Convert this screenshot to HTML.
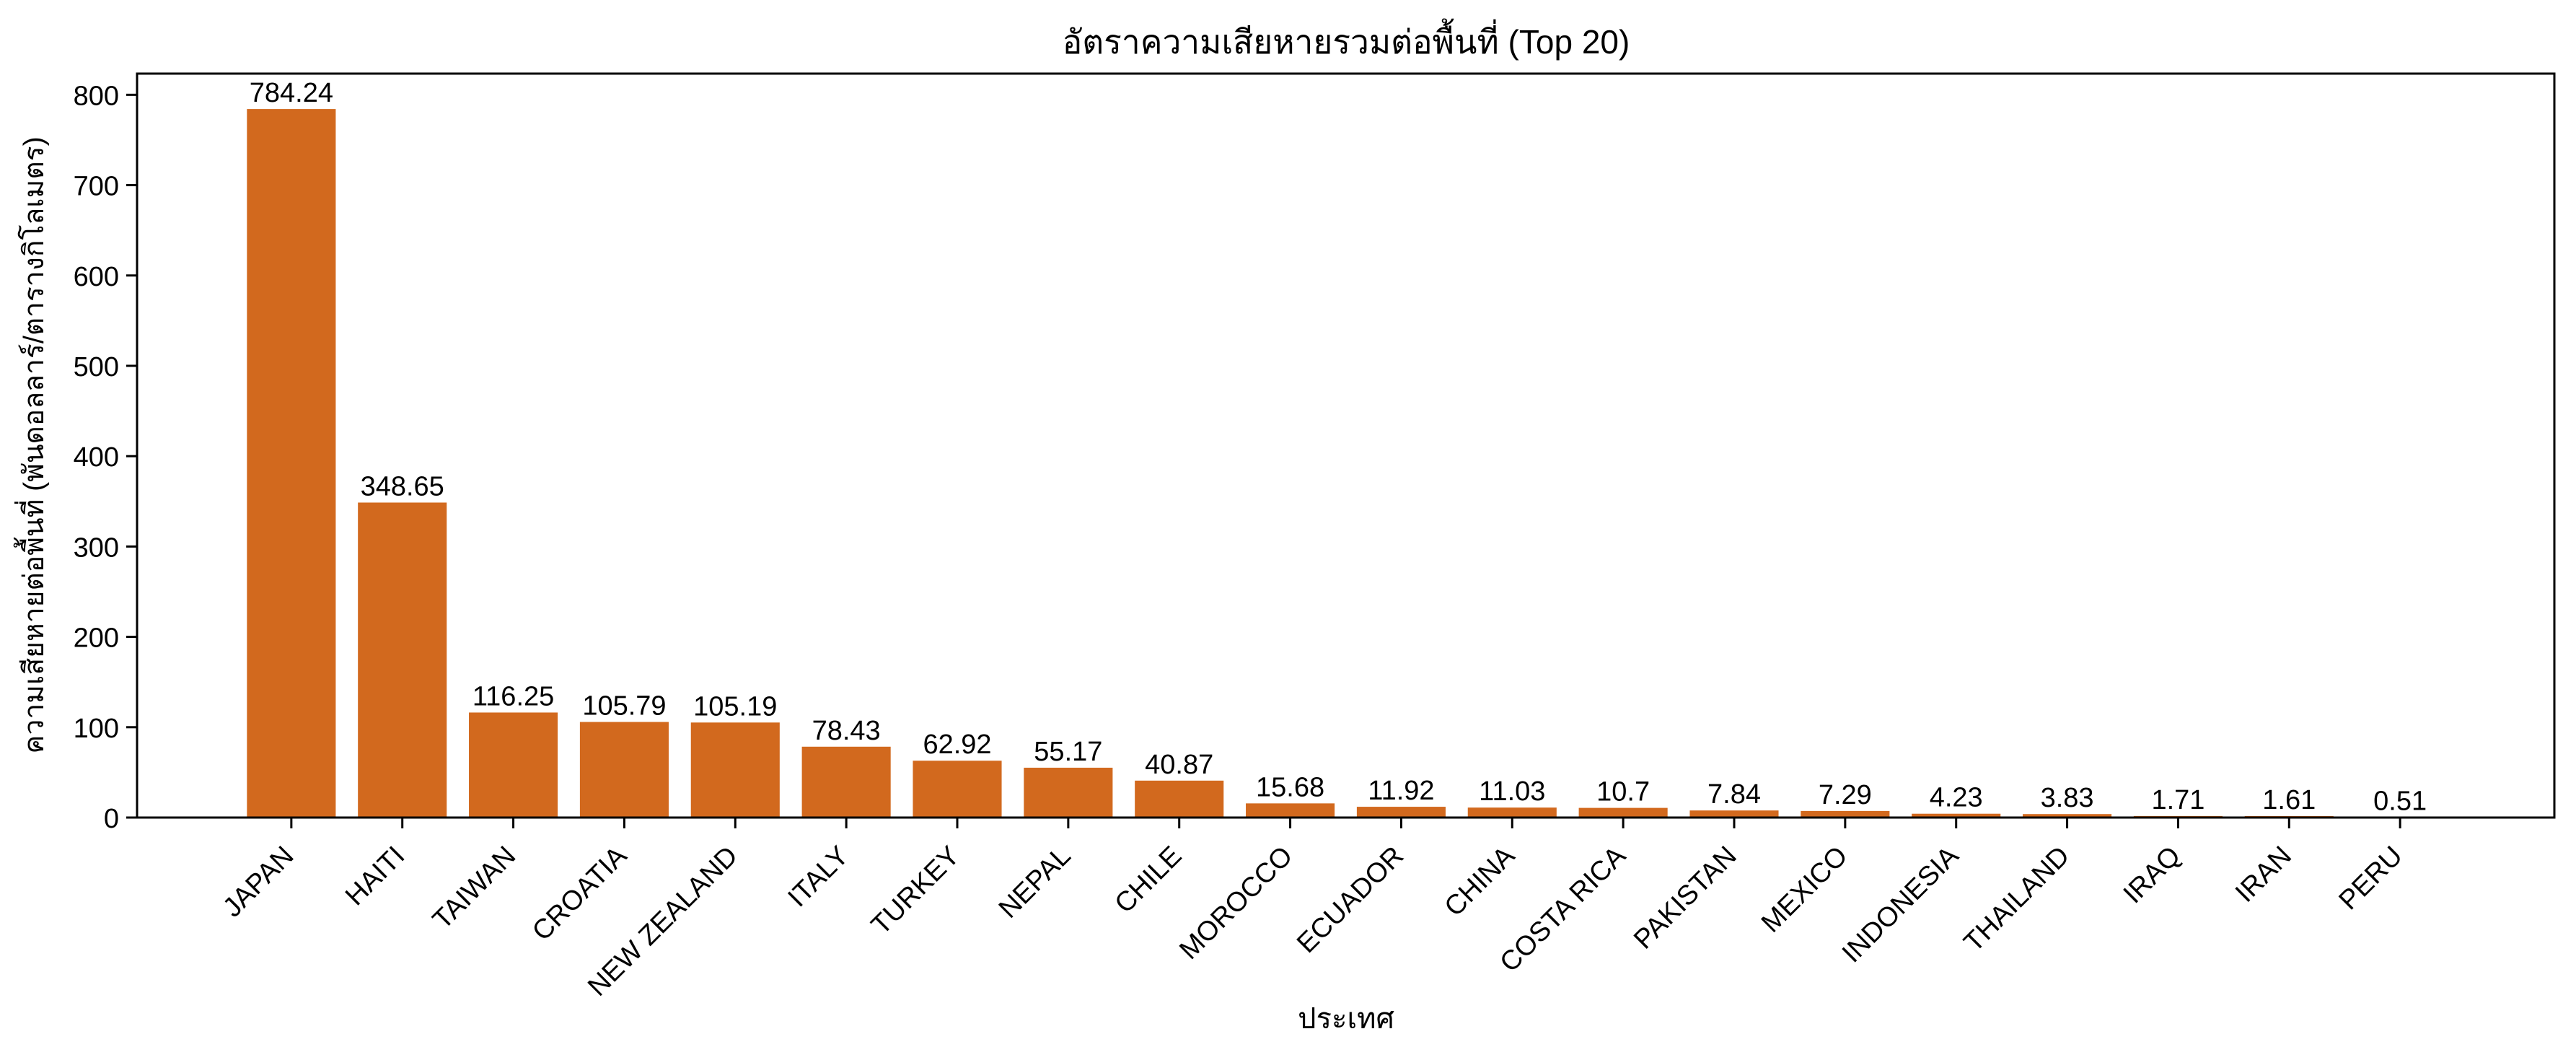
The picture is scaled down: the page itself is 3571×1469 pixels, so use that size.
<!DOCTYPE html>
<html><head><meta charset="utf-8">
<style>
html,body{margin:0;padding:0;background:#fff;}
svg{display:block;font-family:"Liberation Sans","DejaVu Sans",sans-serif;}
</style></head>
<body>
<svg id="chart" width="3571" height="1469" viewBox="0 0 3571 1469" xmlns="http://www.w3.org/2000/svg">
<rect x="0" y="0" width="3571" height="1469" fill="#fff"/>
<text x="1866" y="74" font-size="46" text-anchor="middle" fill="#000">อัตราความเสียหายรวมต่อพื้นที่ (Top 20)</text>
<text x="1866" y="1425" font-size="40" text-anchor="middle" fill="#000">ประเทศ</text>
<text transform="translate(60,617) rotate(-90)" font-size="39" text-anchor="middle" fill="#000">ความเสียหายต่อพื้นที่ (พันดอลลาร์/ตารางกิโลเมตร)</text>
<g id="bars"></g>
<g id="xticks"></g>
<g id="yticks"></g>
<rect x="190" y="102" width="3351" height="1031" fill="none" stroke="#000" stroke-width="3"/>
</svg>
<script>
const categories = ["JAPAN","HAITI","TAIWAN","CROATIA","NEW ZEALAND","ITALY","TURKEY","NEPAL","CHILE","MOROCCO","ECUADOR","CHINA","COSTA RICA","PAKISTAN","MEXICO","INDONESIA","THAILAND","IRAQ","IRAN","PERU"];
const values = [784.24,348.65,116.25,105.79,105.19,78.43,62.92,55.17,40.87,15.68,11.92,11.03,10.7,7.84,7.29,4.23,3.83,1.71,1.61,0.51];
const yTicks = [0,100,200,300,400,500,600,700,800];

const NS = "http://www.w3.org/2000/svg";
const L = 190, R = 3541, T = 102, B = 1133;
const n = categories.length;
const xMin = -0.4 - 0.05*(n-1+0.8), xMax = n-1+0.4 + 0.05*(n-1+0.8);
const yMax = Math.max(...values) * 1.05;
function xs(v){ return L + (v - xMin) / (xMax - xMin) * (R - L); }
function ys(v){ return B - v / yMax * (B - T); }
function mk(tag, attrs, parent){ const e = document.createElementNS(NS, tag); for (const k in attrs) e.setAttribute(k, attrs[k]); parent.appendChild(e); return e; }

const gb = document.getElementById('bars');
const gx = document.getElementById('xticks');
const gy = document.getElementById('yticks');
const bw = (xs(0.8) - xs(0));

values.forEach((v, i) => {
  const cx = xs(i);
  const r = mk('rect', {x: cx - bw/2, y: ys(v), width: bw, height: B - ys(v), fill: '#D2691E'}, gb);
  
  
  const t = mk('text', {x: cx, y: ys(v) - 10, 'font-size': 38, 'text-anchor': 'middle', fill: '#000'}, gb);
  t.textContent = String(v);
  
  
  const tk = mk('line', {x1: cx, x2: cx, y1: B, y2: B + 15, stroke: '#000', 'stroke-width': 3}, gx);
  
  
  const lb = mk('text', {transform: 'translate(' + (cx - 14) + ',' + (B + 36) + ') rotate(-45)', dy: '0.72em', 'font-size': 38, 'text-anchor': 'end', fill: '#000'}, gx);
  lb.textContent = categories[i];
  
  
});

yTicks.forEach(v => {
  const y = ys(v);
  const tk = mk('line', {x1: L - 15, x2: L, y1: y, y2: y, stroke: '#000', 'stroke-width': 3}, gy);
  
  
  const lb = mk('text', {x: L - 25, y: y + 14, 'font-size': 38, 'text-anchor': 'end', fill: '#000'}, gy);
  lb.textContent = String(v);
  
  
});
</script>
</body></html>
